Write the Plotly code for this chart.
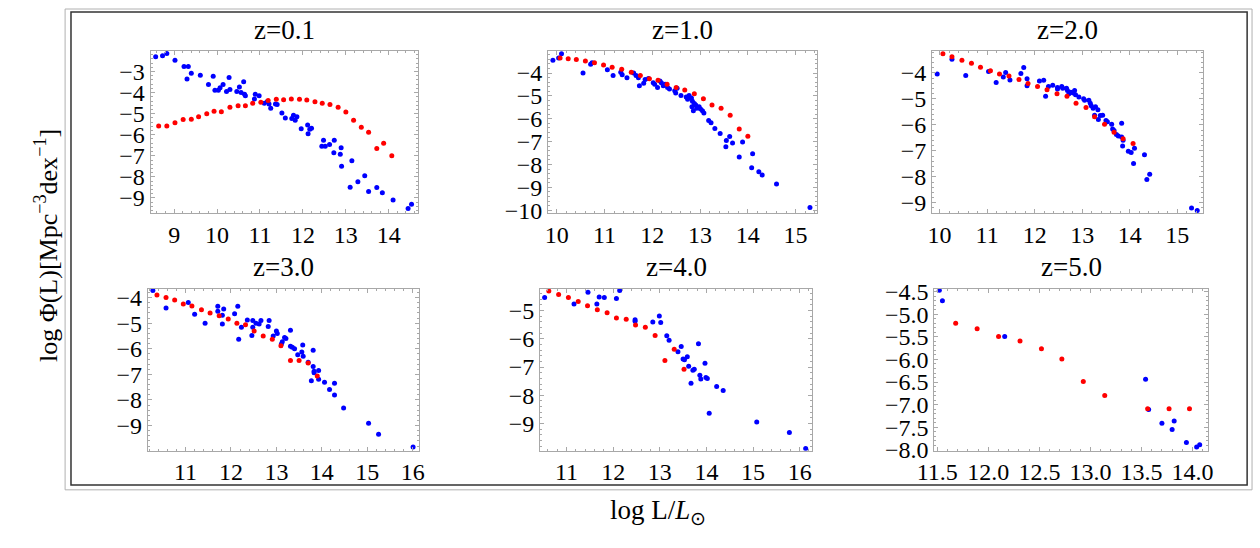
import plotly.graph_objects as go

W, H = 1260, 548

TITLES = ["z=0.1", "z=1.0", "z=2.0", "z=3.0", "z=4.0", "z=5.0"]

# ---------------- z = 0.1 ----------------
Z01_MODEL_X = [8.64, 8.83, 9.02, 9.21, 9.40, 9.57, 9.76, 9.93, 10.10, 10.30, 10.49, 10.66, 10.83, 11.02,
               11.19, 11.38, 11.55, 11.73, 11.92, 12.09, 12.28, 12.45, 12.63, 12.82, 13.00, 13.18, 13.36,
               13.53, 13.72, 13.88, 14.07]
Z01_MODEL_Y = [-5.58, -5.58, -5.43, -5.28, -5.26, -5.15, -5.00, -4.88, -4.91, -4.69, -4.62, -4.62, -4.51,
               -4.46, -4.38, -4.32, -4.34, -4.31, -4.32, -4.35, -4.43, -4.51, -4.57, -4.69, -4.92, -5.31,
               -5.64, -5.88, -6.65, -6.40, -7.00]
Z01_DATA_X = [8.57, 8.73, 8.83, 9.02, 9.23, 9.33, 9.30, 9.40, 9.61, 9.80, 9.91, 9.95, 10.03, 10.07, 10.14,
              10.22, 10.28, 10.30, 10.46, 10.52, 10.56, 10.62, 10.64, 10.66, 10.89, 10.87, 10.98, 11.10,
              11.17, 11.25, 11.21, 11.36, 11.40, 11.51, 11.59, 11.74, 11.78, 11.82, 11.86, 11.96, 12.11,
              12.12, 12.16, 12.20, 12.44, 12.48, 12.52, 12.62, 12.73, 12.72, 12.87, 12.89, 12.90, 13.14,
              13.10, 13.28, 13.44, 13.53, 13.72, 13.85, 14.10, 14.45, 14.53]
Z01_DATA_Y = [-2.30, -2.25, -2.14, -2.47, -2.76, -2.76, -3.35, -3.08, -3.18, -3.62, -3.23, -3.89, -3.89,
              -3.77, -3.62, -3.95, -3.28, -3.85, -3.95, -3.74, -4.00, -3.49, -4.08, -4.15, -4.08, -4.31,
              -4.15, -4.51, -4.42, -4.74, -4.54, -4.54, -4.57, -4.97, -5.20, -5.23, -5.08, -5.31, -5.15,
              -5.72, -5.54, -5.95, -5.74, -5.69, -6.54, -6.26, -6.54, -6.46, -6.26, -6.85, -6.92, -6.62,
              -7.50, -7.23, -8.49, -8.23, -7.95, -8.69, -8.50, -8.75, -9.10, -9.50, -9.30]

# ---------------- z = 1.0 ----------------
Z10_MODEL_X = [10.07, 10.24, 10.41, 10.60, 10.79, 10.98, 11.16, 11.36, 11.56, 11.75, 11.94, 12.12, 12.31,
               12.50, 12.68, 12.88, 13.07, 13.25, 13.44, 13.63, 13.82, 14.00]
Z10_MODEL_Y = [-3.34, -3.37, -3.41, -3.47, -3.55, -3.65, -3.75, -3.83, -3.96, -4.11, -4.25, -4.32, -4.49,
               -4.63, -4.74, -4.91, -5.12, -5.40, -5.54, -5.85, -6.45, -6.76]
Z10_DATA_X = [9.92, 10.04, 10.10, 10.55, 10.71, 10.74, 11.06, 11.18, 11.34, 11.37, 11.47, 11.61, 11.66,
              11.71, 11.73, 11.82, 11.85, 11.92, 12.02, 12.05, 12.11, 12.16, 12.19, 12.23, 12.27, 12.32,
              12.36, 12.47, 12.49, 12.52, 12.60, 12.71, 12.74, 12.77, 12.82, 12.84, 12.88, 12.91, 12.93,
              12.98, 13.01, 13.05, 13.08, 12.86, 12.83, 13.18, 13.23, 13.31, 13.42, 13.55, 13.62, 13.54,
              13.68, 13.82, 13.89, 14.10, 14.08, 14.23, 14.30, 14.60, 15.30]
Z10_DATA_Y = [-3.44, -3.34, -3.16, -4.00, -3.61, -3.55, -3.86, -4.11, -3.97, -4.07, -4.21, -4.00, -4.11,
              -4.21, -4.56, -4.45, -4.28, -4.24, -4.42, -4.49, -4.63, -4.35, -4.42, -4.56, -4.49, -4.63,
              -4.70, -4.77, -4.87, -4.67, -4.98, -5.05, -5.15, -4.98, -5.09, -5.23, -5.33, -5.40, -5.54,
              -5.47, -5.57, -5.65, -5.75, -5.65, -5.47, -6.08, -6.17, -6.43, -6.64, -6.95, -6.78, -7.23,
              -7.06, -7.67, -7.02, -7.53, -8.14, -8.32, -8.46, -8.85, -9.88]

# ---------------- z = 2.0 ----------------
Z20_MODEL_X = [10.07, 10.26, 10.47, 10.67, 10.86, 11.07, 11.26, 11.46, 11.67, 11.86, 12.06, 12.26, 12.47,
               12.68, 12.87, 13.08, 13.26, 13.47, 13.67, 13.86, 14.07]
Z20_MODEL_Y = [-3.26, -3.38, -3.51, -3.63, -3.78, -3.91, -4.04, -4.12, -4.25, -4.41, -4.52, -4.65, -4.80,
               -4.90, -5.17, -5.33, -5.69, -5.98, -6.28, -6.53, -6.72]
Z20_DATA_X = [9.95, 10.26, 10.55, 11.03, 11.19, 11.34, 11.39, 11.48, 11.71, 11.77, 11.84, 11.84, 12.10,
              12.19, 12.23, 12.29, 12.38, 12.48, 12.48, 12.57, 12.59, 12.67, 12.69, 12.72, 12.76, 12.81,
              12.84, 12.86, 12.93, 13.03, 13.05, 13.14, 13.17, 13.19, 13.23, 13.28, 13.26, 13.33, 13.34,
              13.38, 13.43, 13.50, 13.53, 13.62, 13.64, 13.67, 13.72, 13.76, 13.83, 13.83, 13.86, 13.85,
              13.97, 14.03, 14.10, 14.08, 14.31, 14.36, 14.42, 15.30, 15.42]
Z20_DATA_Y = [-4.04, -3.47, -4.10, -3.94, -4.37, -4.16, -3.98, -4.27, -4.02, -3.79, -4.22, -4.49, -4.31,
              -4.28, -4.90, -4.52, -4.47, -4.56, -4.62, -4.52, -4.59, -4.59, -4.68, -4.80, -4.74, -4.77,
              -4.68, -4.84, -4.93, -4.99, -5.05, -5.05, -5.17, -5.26, -5.36, -5.30, -5.63, -5.42, -5.79,
              -5.64, -5.63, -5.83, -5.88, -5.98, -6.16, -6.22, -6.37, -6.43, -5.94, -6.47, -6.59, -6.81,
              -7.02, -7.06, -6.90, -7.49, -7.15, -8.10, -7.90, -9.20, -9.30]

# ---------------- z = 3.0 ----------------
Z30_MODEL_X = [10.37, 10.57, 10.76, 10.95, 11.14, 11.35, 11.54, 11.74, 11.94, 12.13, 12.32, 12.51, 12.71,
               12.91, 13.10, 13.31, 13.50, 13.70, 13.90]
Z30_MODEL_Y = [-3.90, -4.00, -4.10, -4.25, -4.33, -4.48, -4.60, -4.71, -4.84, -5.00, -5.06, -5.31, -5.50,
               -5.63, -5.88, -6.46, -6.46, -6.56, -7.06]
Z30_DATA_X = [10.28, 10.57, 11.06, 11.20, 11.43, 11.71, 11.71, 11.81, 11.81, 11.84, 12.08, 12.15, 12.17,
              12.23, 12.36, 12.46, 12.48, 12.48, 12.55, 12.62, 12.66, 12.82, 12.84, 12.93, 13.00, 13.02,
              13.13, 13.11, 13.18, 13.21, 13.31, 13.31, 13.35, 13.40, 13.47, 13.56, 13.58, 13.59, 13.70,
              13.81, 13.81, 13.83, 13.83, 13.77, 13.93, 13.93, 14.06, 14.17, 14.28, 14.28, 14.48, 15.03,
              15.25, 16.01]
Z30_DATA_Y = [-3.73, -4.41, -4.19, -4.65, -5.00, -4.34, -4.54, -4.69, -5.03, -4.45, -4.63, -4.34, -5.63,
              -5.16, -4.88, -5.48, -4.90, -5.16, -5.00, -5.03, -4.90, -5.13, -4.90, -5.50, -5.31, -5.40,
              -5.73, -5.81, -5.56, -5.60, -5.28, -5.90, -5.94, -6.00, -6.23, -6.13, -5.85, -6.29, -6.53,
              -6.06, -6.69, -6.88, -6.94, -7.25, -6.85, -7.19, -7.31, -7.59, -7.35, -7.81, -8.31, -8.91,
              -9.34, -9.84]

# ---------------- z = 4.0 ----------------
Z40_MODEL_X = [10.62, 10.83, 11.04, 11.25, 11.45, 11.66, 11.87, 12.07, 12.28, 12.48, 12.69, 12.90, 13.11,
               13.31, 13.52]
Z40_MODEL_Y = [-4.31, -4.43, -4.54, -4.68, -4.83, -4.97, -5.08, -5.26, -5.31, -5.51, -5.59, -5.88, -6.77,
               -6.37, -7.08]
Z40_DATA_X = [10.53, 11.16, 11.46, 11.65, 11.70, 11.81, 12.07, 12.14, 12.47, 12.47, 12.85, 12.99, 13.02,
              13.15, 13.20, 13.39, 13.46, 13.50, 13.53, 13.59, 13.62, 13.67, 13.71, 13.74, 13.83, 13.86,
              13.88, 13.97, 13.99, 14.02, 14.06, 14.22, 14.36, 15.08, 15.78, 16.13]
Z40_DATA_Y = [-4.54, -4.77, -4.35, -4.77, -4.52, -4.54, -4.57, -4.29, -5.32, -5.38, -5.40, -5.19, -5.42,
              -5.89, -6.05, -6.46, -6.27, -6.71, -6.74, -6.63, -6.97, -7.57, -7.11, -7.08, -6.17, -7.29,
              -7.42, -6.86, -7.37, -7.40, -8.63, -7.69, -7.83, -8.94, -9.32, -9.88]

# ---------------- z = 5.0 ----------------
Z50_MODEL_X = [11.68, 11.89, 12.10, 12.31, 12.52, 12.72, 12.93, 13.14, 13.56, 13.77, 13.97]
Z50_MODEL_Y = [-5.20, -5.32, -5.49, -5.59, -5.76, -5.99, -6.49, -6.80, -7.09, -7.09, -7.09]
Z50_DATA_X = [11.52, 11.55, 12.16, 13.54, 13.57, 13.70, 13.80, 13.82, 13.94, 14.04, 14.07]
Z50_DATA_Y = [-4.47, -4.70, -5.49, -6.44, -7.11, -7.41, -7.55, -7.36, -7.84, -7.94, -7.89]

MODEL_X = [Z01_MODEL_X, Z10_MODEL_X, Z20_MODEL_X, Z30_MODEL_X, Z40_MODEL_X, Z50_MODEL_X]
MODEL_Y = [Z01_MODEL_Y, Z10_MODEL_Y, Z20_MODEL_Y, Z30_MODEL_Y, Z40_MODEL_Y, Z50_MODEL_Y]
DATA_X = [Z01_DATA_X, Z10_DATA_X, Z20_DATA_X, Z30_DATA_X, Z40_DATA_X, Z50_DATA_X]
DATA_Y = [Z01_DATA_Y, Z10_DATA_Y, Z20_DATA_Y, Z30_DATA_Y, Z40_DATA_Y, Z50_DATA_Y]

# axis ranges per panel
X_RANGES = [[8.45, 14.67], [9.82, 15.45], [9.84, 15.54], [10.17, 16.13], [10.43, 16.27], [11.47, 14.15]]
Y_RANGES = [[-9.72, -2.01], [-10.13, -3.02], [-9.40, -3.14], [-9.98, -3.65], [-9.96, -4.22], [-8.02, -4.43]]
X_DTICK = [1, 1, 1, 1, 1, 0.5]
Y_DTICK = [1, 1, 1, 1, 1, 0.5]

# panel frames in pixels (left, right, top, bottom)
BOXES = [(136, 408, 43.3, 212.3), (541, 815, 43.3, 212.3), (932, 1208, 43.3, 212.3),
         (133.3, 409, 290.7, 459.3), (532.7, 810, 290.7, 459.3), (934.3, 1213, 290.7, 459.3)]

FONT = "Liberation Serif, Times New Roman, serif"
FRAME = "#a8a8a8"

fig = go.Figure()
layout = dict(width=W, height=H, margin=dict(l=0, r=0, t=0, b=0),
              paper_bgcolor="white", plot_bgcolor="white", showlegend=False,
              font=dict(family=FONT, color="black"))
annotations = []

for i in range(6):
    n = "" if i == 0 else str(i + 1)
    xa, ya = "x" + n, "y" + n
    fig.add_trace(go.Scatter(x=DATA_X[i], y=DATA_Y[i], mode="markers", xaxis=xa, yaxis=ya,
                             marker=dict(color="#0000ff", size=5, line=dict(width=0))))
    fig.add_trace(go.Scatter(x=MODEL_X[i], y=MODEL_Y[i], mode="markers", xaxis=xa, yaxis=ya,
                             marker=dict(color="#ff0000", size=5, line=dict(width=0))))
    l, r, t, b = BOXES[i]
    fmt = ".1f" if X_DTICK[i] < 1 else ""
    common = dict(showline=True, linecolor=FRAME, linewidth=1, mirror="ticks", ticks="inside",
                  ticklen=4, tickcolor=FRAME, tickwidth=1, showgrid=False, zeroline=False,
                  tickfont=dict(family=FONT, size=24, color="black"))
    layout["xaxis" + n] = dict(domain=[l / W, r / W], range=X_RANGES[i], anchor=ya,
                               tickmode="linear", tick0=0, dtick=X_DTICK[i], tickformat=fmt,
                               minor=dict(ticks="inside", ticklen=2, tickcolor=FRAME,
                                          dtick=X_DTICK[i] / 5, tick0=0, showgrid=False),
                               **common)
    layout["yaxis" + n] = dict(domain=[1 - b / H, 1 - t / H], range=Y_RANGES[i], anchor=xa,
                               tickmode="linear", tick0=0, dtick=Y_DTICK[i], tickformat=fmt,
                               minor=dict(ticks="inside", ticklen=2, tickcolor=FRAME,
                                          dtick=Y_DTICK[i] / 5, tick0=0, showgrid=False),
                               **common)
    ty = 22 if i < 3 else 268
    annotations.append(dict(text=TITLES[i], x=(l + r) / 2 / W, y=1 - ty / H, xref="paper", yref="paper",
                            showarrow=False, xanchor="center", yanchor="middle",
                            font=dict(family=FONT, size=27, color="black")))

annotations.append(dict(text="log Φ(L)[Mpc<sup>−3</sup>dex<sup>−1</sup>]", x=30 / W, y=1 - 246 / H,
                        xref="paper", yref="paper", showarrow=False, textangle=-90,
                        xanchor="center", yanchor="middle", font=dict(family=FONT, size=26, color="black")))
annotations.append(dict(text="log L/<i>L</i><sub>⊙</sub>", x=653 / W, y=1 - 523 / H,
                        xref="paper", yref="paper", showarrow=False,
                        xanchor="center", yanchor="middle", font=dict(family=FONT, size=27, color="black")))
layout["annotations"] = annotations

layout["shapes"] = [
    dict(type="rect", xref="paper", yref="paper", x0=49 / W, x1=1258 / W, y0=1 - 500 / H, y1=1.0,
         line=dict(color="#b0b0b0", width=1), layer="below"),
    dict(type="rect", xref="paper", yref="paper", x0=55 / W, x1=1253 / W, y0=1 - 495 / H, y1=1 - 3 / H,
         line=dict(color="#333333", width=1.5), layer="below"),
]

fig.update_layout(**layout)
fig.write_html("out.html")
